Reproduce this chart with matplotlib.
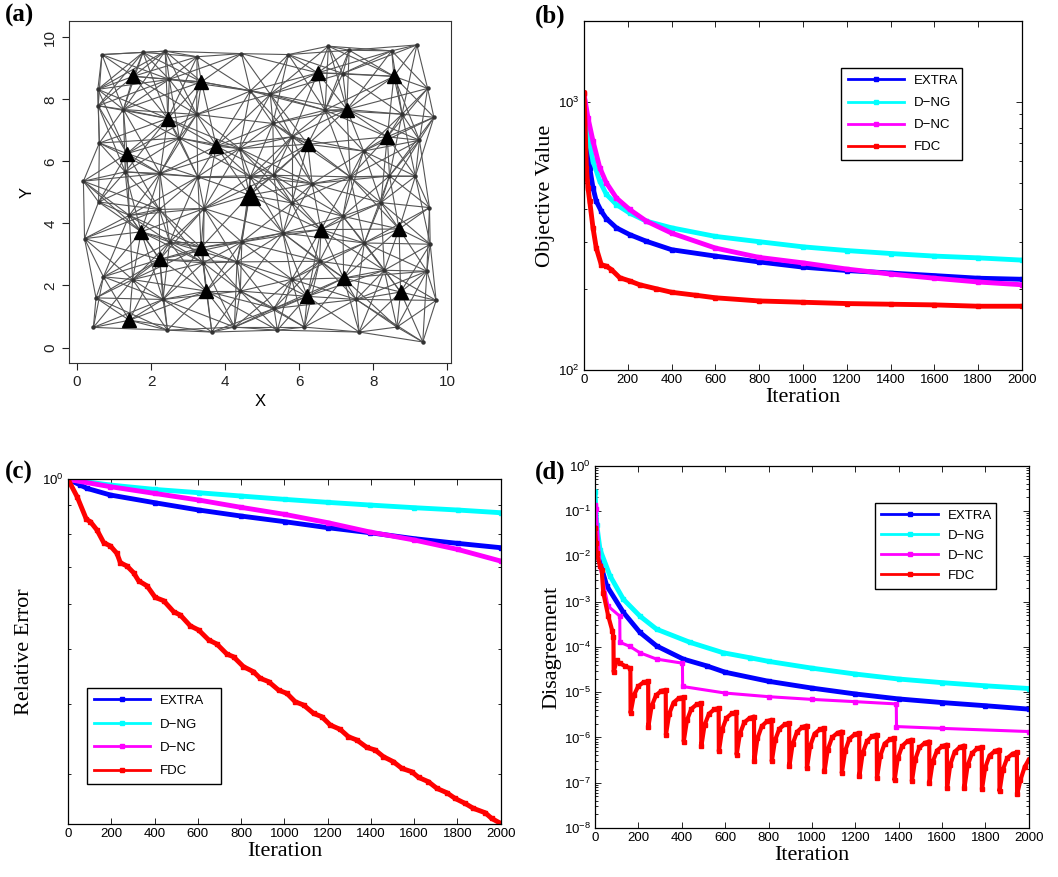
import numpy as np
import matplotlib.pyplot as plt
from matplotlib.lines import Line2D
from matplotlib.collections import LineCollection
from matplotlib.ticker import LogLocator, NullFormatter, FixedLocator

SERIF = 'Liberation Serif'
SANS = 'Liberation Sans'

# ---- panel (a): sensor network ----
node_x = [0.67, 1.78, 2.38, 3.24, 4.44, 5.71, 6.79, 7.35, 8.50, 9.18,
          0.56, 9.47, 0.57, 9.64, 0.60, 9.25, 0.17, 9.14, 0.58, 9.52,
          0.20, 9.54, 0.71, 9.45, 0.51, 9.70, 0.44, 2.44, 3.64, 4.25,
          5.41, 6.14, 7.62, 8.64, 9.34,
          2.49, 1.25, 3.23, 4.68, 2.76, 4.39, 2.24, 3.26, 1.30, 4.68,
          7.18, 5.22, 6.70, 8.78, 5.29, 5.80, 7.74, 7.38, 8.44, 5.31,
          1.41, 2.22, 3.43, 4.45, 2.50, 3.41, 4.32, 1.50, 2.32, 4.41,
          5.80, 8.21, 5.56, 7.76, 7.18, 6.55, 8.30, 5.80, 7.54, 5.32,
          6.35]
node_y = [9.44, 9.51, 9.55, 9.37, 9.47, 9.44, 9.71, 9.58, 9.56, 9.75,
          8.32, 8.35, 7.79, 7.42, 6.59, 6.68, 5.36, 5.52, 4.69, 4.51,
          3.51, 3.33, 2.28, 2.46, 1.60, 1.52, 0.65, 0.56, 0.50, 0.66,
          0.56, 0.66, 0.50, 0.66, 0.18,
          8.64, 7.67, 7.51, 8.27, 6.75, 6.41, 5.61, 5.50, 5.66, 5.50,
          8.83, 8.16, 7.65, 7.52, 7.22, 6.79, 6.33, 5.50, 5.53, 5.55,
          4.26, 4.45, 4.48, 3.40, 3.40, 2.73, 2.76, 2.19, 1.55, 1.82,
          4.66, 4.67, 3.69, 3.37, 4.23, 2.78, 2.49, 2.20, 1.55, 1.26,
          5.28]
tri_x = [1.52, 3.36, 6.50, 8.56, 2.45, 7.29, 8.38, 1.35, 3.76, 6.23, 4.66,
         1.73, 6.59, 8.70, 3.35, 2.23, 7.20, 3.49, 8.74, 6.22, 1.41]
tri_y = [8.74, 8.56, 8.85, 8.74, 7.38, 7.67, 6.79, 6.25, 6.49, 6.55, 4.91,
         3.73, 3.80, 3.82, 3.22, 2.84, 2.24, 1.82, 1.79, 1.65, 0.88]
link_radius = 2.3

# ---- panel (b): objective value ----
b_extra_it = [0, 11, 26, 41, 56, 79, 102, 148, 208, 285, 400, 600, 800, 1000, 1200, 1400, 1600, 1800, 2000]
b_extra = [930, 757, 568, 478, 426, 391, 367, 339, 320, 302, 281, 266, 253, 242, 235, 230, 225, 220, 218]
b_dng_it = [0, 18, 41, 72, 102, 148, 208, 285, 400, 600, 800, 1000, 1200, 1400, 1600, 1800, 2000]
b_dng = [1009, 757, 601, 506, 452, 414, 385, 359, 339, 315, 301, 288, 279, 272, 266, 262, 257]
b_dnc_it = [0, 18, 41, 72, 102, 148, 208, 285, 400, 600, 800, 1000, 1200, 1400, 1600, 1800, 2000]
b_dnc = [1069, 873, 714, 568, 499, 438, 397, 359, 324, 285, 263, 251, 238, 228, 220, 213, 208]
b_fdc_it = [0, 11, 18, 26, 41, 56, 79, 102, 125, 163, 208, 254, 330, 400, 513, 600, 800, 1000, 1200, 1400, 1600, 1800, 2000]
b_fdc = [1083, 568, 479, 426, 339, 285, 247, 244, 237, 221, 215, 208, 201, 195, 190, 186, 181, 179, 177, 176, 175, 173, 173]

# ---- panel (c): relative error (log10 values) ----
c_it = [0, 57, 88, 196, 400, 604, 800, 1001, 1201, 1396, 1601, 1801, 2000]
c_extra_log = [0, -0.010, -0.016, -0.0278, -0.0414, -0.0544, -0.0651, -0.0751, -0.0858, -0.0947, -0.1053, -0.1136, -0.1213]
c_dng_it = [0, 196, 400, 604, 800, 1001, 1201, 1396, 1601, 1801, 2000]
c_dng_log = [0, -0.0101, -0.0178, -0.0237, -0.0296, -0.0355, -0.0408, -0.0456, -0.0503, -0.0544, -0.0592]
c_dnc_log = [0, -0.0130, -0.0249, -0.0367, -0.0497, -0.0621, -0.0769, -0.0935, -0.1077, -0.1243, -0.1450]
c_fdc_it = [0, 42, 85, 103, 134, 165, 196, 226, 242, 273, 303, 326, 365, 403, 442, 488, 519, 565, 604,
            650, 688, 734, 765, 811, 857, 888, 927, 973, 1012, 1050, 1089, 1135, 1173, 1212, 1258, 1296,
            1335, 1381, 1420, 1458, 1504, 1543, 1589, 1620, 1666, 1705, 1751, 1789, 1835, 1874, 1928, 1958, 2000]
c_fdc_log = [0, -0.0308, -0.071, -0.075, -0.090, -0.1124, -0.1183, -0.1314, -0.148, -0.154, -0.1657, -0.180,
             -0.189, -0.2095, -0.2154, -0.2349, -0.2408, -0.260, -0.2675, -0.285, -0.2923, -0.310, -0.315,
             -0.3325, -0.3414, -0.353, -0.359, -0.374, -0.380, -0.3947, -0.4006, -0.4154, -0.4213, -0.436,
             -0.4438, -0.4568, -0.4627, -0.4757, -0.4805, -0.4923, -0.5012, -0.513, -0.519, -0.529, -0.5367,
             -0.5485, -0.5562, -0.5663, -0.5751, -0.584, -0.5917, -0.6018, -0.6107]

# ---- panel (d): disagreement (log10 values) ----
d_extra_it = [0, 10, 19, 54, 131, 207, 284, 407, 515, 600, 800, 1000, 1200, 1400, 1600, 1800, 2000]
d_extra_log = [-1.55, -1.90, -2.07, -2.65, -3.24, -3.68, -3.98, -4.27, -4.42, -4.56, -4.76, -4.91, -5.04,
               -5.15, -5.23, -5.30, -5.375]
d_dng_it = [0, 8, 23, 69, 131, 207, 284, 438, 591, 714, 800, 1000, 1200, 1400, 1600, 1800, 2000]
d_dng_log = [-0.57, -1.30, -1.85, -2.43, -2.95, -3.32, -3.61, -3.90, -4.13, -4.24, -4.32, -4.47, -4.60,
             -4.71, -4.79, -4.86, -4.92]
d_dnc_it = [0, 5, 23, 60, 114, 115, 161, 207, 284, 403, 404, 600, 800, 1000, 1200, 1389, 1390, 1600, 2000]
d_dnc_log = [-0.87, -0.95, -2.21, -3.10, -3.32, -3.90, -3.99, -4.13, -4.27, -4.36, -4.875, -5.02, -5.10,
             -5.16, -5.21, -5.26, -5.76, -5.80, -5.87]
d_fdc_it = [0, 5, 7, 23, 31, 38, 61, 80, 85, 86, 100, 115, 140, 163,
            164, 179, 199, 224, 245,
            246, 261, 281, 306, 326,
            327, 342, 362, 387, 408,
            409, 424, 444, 469, 489,
            490, 505, 525, 550, 570,
            571, 586, 606, 631, 652,
            653, 668, 688, 713, 733,
            734, 749, 769, 794, 814,
            815, 830, 850, 875, 895,
            896, 911, 931, 956, 976,
            977, 992, 1012, 1037, 1057,
            1058, 1073, 1093, 1118, 1137,
            1138, 1153, 1173, 1198, 1218,
            1219, 1234, 1254, 1279, 1299,
            1300, 1315, 1335, 1360, 1380,
            1381, 1396, 1416, 1441, 1460,
            1461, 1476, 1496, 1521, 1541,
            1542, 1557, 1577, 1602, 1622,
            1623, 1638, 1658, 1683, 1702,
            1703, 1718, 1738, 1763, 1783,
            1784, 1799, 1819, 1844, 1864,
            1865, 1880, 1900, 1925, 1945,
            1946, 1961, 1981, 2000]
d_fdc_log = [-1.37, -1.70, -1.92, -2.21, -2.30, -2.80, -3.32, -3.65, -3.78, -4.55, -4.30, -4.36, -4.43, -4.47,
             -5.46, -5.07, -4.87, -4.78, -4.76,
             -5.76, -5.31, -5.07, -4.97, -4.95,
             -5.94, -5.48, -5.23, -5.13, -5.11,
             -6.09, -5.62, -5.37, -5.27, -5.24,
             -6.20, -5.73, -5.48, -5.38, -5.35,
             -6.31, -5.83, -5.57, -5.47, -5.44,
             -6.38, -5.92, -5.67, -5.57, -5.54,
             -6.53, -6.02, -5.75, -5.64, -5.61,
             -6.53, -6.06, -5.81, -5.71, -5.68,
             -6.64, -6.15, -5.88, -5.77, -5.74,
             -6.68, -6.19, -5.92, -5.82, -5.79,
             -6.75, -6.27, -6.00, -5.90, -5.87,
             -6.79, -6.30, -6.03, -5.93, -5.90,
             -6.85, -6.35, -6.08, -5.97, -5.94,
             -6.90, -6.41, -6.14, -6.04, -6.01,
             -6.95, -6.46, -6.19, -6.08, -6.05,
             -6.97, -6.49, -6.22, -6.12, -6.09,
             -7.01, -6.54, -6.29, -6.19, -6.16,
             -7.12, -6.60, -6.32, -6.21, -6.18,
             -7.12, -6.62, -6.35, -6.24, -6.21,
             -7.15, -6.67, -6.40, -6.30, -6.27,
             -7.19, -6.72, -6.46, -6.36, -6.33,
             -7.26, -6.95, -6.65, -6.49]

methods = ['EXTRA', 'D\u2212NG', 'D\u2212NC', 'FDC']
colors = ['#0000ff', '#00ffff', '#ff00ff', '#ff0000']


def matlab_axes(ax):
    ax.set_xlim(0, 2000)
    ax.set_xticks(range(0, 2001, 200))
    ax.tick_params(which='both', direction='in', top=True, right=True,
                   labelsize=9.5, width=0.6, pad=3)
    ax.tick_params(which='major', length=4)
    ax.tick_params(which='minor', length=2.5)
    for lab in ax.get_xticklabels() + ax.get_yticklabels():
        lab.set_fontfamily(SANS)
    for s in ax.spines.values():
        s.set_linewidth(0.9)
    ax.set_xlabel('Iteration', fontsize=16, family=SERIF, labelpad=1)


def curve(ax, x, y, c, lw=3.5):
    ax.plot(x, y, color=c, lw=lw, marker='s', ms=2.2, mec=c, mfc=c)


def legend(ax, left, top, width, spacing):
    handles = [Line2D([], [], color=c, lw=2, marker='s', ms=3) for c in colors]
    leg = ax.legend(handles, methods, loc='upper left', bbox_to_anchor=(left, top - 0.1, width, 0.1),
                    mode='expand', borderaxespad=0, fancybox=False, edgecolor='black', framealpha=1,
                    handlelength=4.3, handletextpad=0.7, labelspacing=spacing, borderpad=0.5,
                    numpoints=1, prop={'family': SANS, 'size': 9.5})
    leg.get_frame().set_linewidth(1.0)


def plot_a(ax):
    px = np.array(node_x + tri_x)
    py = np.array(node_y + tri_y)
    segs = []
    for i in range(len(px)):
        for j in range(i + 1, len(px)):
            if np.hypot(px[i] - px[j], py[i] - py[j]) < link_radius:
                segs.append([(px[i], py[i]), (px[j], py[j])])
    ax.add_collection(LineCollection(segs, colors='#555555', linewidths=0.8, zorder=1))
    ax.plot(node_x, node_y, 'o', color='#333333', ms=2.2, zorder=2)
    big = 10
    tx = [x for k, x in enumerate(tri_x) if k != big]
    ty = [y for k, y in enumerate(tri_y) if k != big]
    ax.plot(tx, ty, '^', color='black', ms=10, zorder=3)
    ax.plot([tri_x[big]], [tri_y[big]], '^', color='black', ms=15, zorder=3)
    ax.set_xlim(-0.22, 10.1)
    ax.set_ylim(-0.5, 10.52)
    ax.set_xticks(range(0, 11, 2))
    ax.set_yticks(range(0, 11, 2))
    ax.tick_params(direction='out', length=5, labelsize=11, colors='#222222')
    for lab in ax.get_yticklabels():
        lab.set_rotation(90)
        lab.set_va('center')
    for lab in ax.get_xticklabels() + ax.get_yticklabels():
        lab.set_fontfamily(SANS)
    for s in ax.spines.values():
        s.set_color('#333333')
    ax.set_xlabel('X', fontsize=12, family=SANS, labelpad=4)
    ax.set_ylabel('Y', fontsize=12, family=SANS, labelpad=6)


def plot_b(ax):
    ax.set_yscale('log')
    curve(ax, b_extra_it, b_extra, colors[0])
    curve(ax, b_dng_it, b_dng, colors[1])
    curve(ax, b_dnc_it, b_dnc, colors[2])
    curve(ax, b_fdc_it, b_fdc, colors[3])
    ax.set_ylim(100, 2000)
    ax.yaxis.set_major_locator(FixedLocator([100, 1000]))
    ax.yaxis.set_minor_locator(LogLocator(base=10, subs=range(2, 10)))
    ax.yaxis.set_minor_formatter(NullFormatter())
    matlab_axes(ax)
    ax.set_ylabel('Objective Value', fontsize=16, family=SERIF, labelpad=2)
    legend(ax, 0.587, 0.865, 0.276, 0.75)


def plot_c(ax):
    ax.set_yscale('log')
    curve(ax, c_it, np.power(10.0, c_extra_log), colors[0])
    curve(ax, c_dng_it, np.power(10.0, c_dng_log), colors[1])
    curve(ax, c_dng_it, np.power(10.0, c_dnc_log), colors[2])
    curve(ax, c_fdc_it, np.power(10.0, c_fdc_log), colors[3])
    ax.set_ylim(0.2445, 1.0)
    ax.yaxis.set_major_locator(FixedLocator([1.0]))
    ax.yaxis.set_minor_locator(FixedLocator([0.3, 0.4, 0.5, 0.6, 0.7, 0.8, 0.9]))
    ax.yaxis.set_minor_formatter(NullFormatter())
    matlab_axes(ax)
    ax.set_ylabel('Relative Error', fontsize=16, family=SERIF, labelpad=6)
    legend(ax, 0.044, 0.394, 0.309, 0.85)


def plot_d(ax):
    ax.set_yscale('log')
    curve(ax, d_extra_it, np.power(10.0, d_extra_log), colors[0])
    curve(ax, d_dng_it, np.power(10.0, d_dng_log), colors[1])
    curve(ax, d_dnc_it, np.power(10.0, d_dnc_log), colors[2], lw=2.2)
    curve(ax, d_fdc_it, np.power(10.0, d_fdc_log), colors[3], lw=3)
    ax.set_ylim(1e-8, 1)
    ax.yaxis.set_major_locator(LogLocator(base=10, numticks=12))
    ax.yaxis.set_minor_locator(LogLocator(base=10, subs=range(2, 10), numticks=12))
    ax.yaxis.set_minor_formatter(NullFormatter())
    matlab_axes(ax)
    ax.set_ylabel('Disagreement', fontsize=16, family=SERIF, labelpad=2)
    legend(ax, 0.645, 0.898, 0.279, 0.6)


def main():
    fig = plt.figure(figsize=(10.58, 8.77), dpi=100)
    ax_a = fig.add_axes([0.0652, 0.586, 0.361, 0.390])
    ax_b = fig.add_axes([0.552, 0.578, 0.414, 0.398])
    ax_c = fig.add_axes([0.0643, 0.0604, 0.409, 0.393])
    ax_d = fig.add_axes([0.5624, 0.0559, 0.410, 0.413])
    plot_a(ax_a)
    plot_b(ax_b)
    plot_c(ax_c)
    plot_d(ax_d)
    for lab, x, y in [('(a)', 0.005, 0.995), ('(b)', 0.506, 0.995),
                      ('(c)', 0.005, 0.475), ('(d)', 0.506, 0.475)]:
        fig.text(x, y, lab, fontsize=18, fontweight='bold', family=SERIF, va='top', ha='left')
    fig.savefig('out.png', dpi=100)


main()
